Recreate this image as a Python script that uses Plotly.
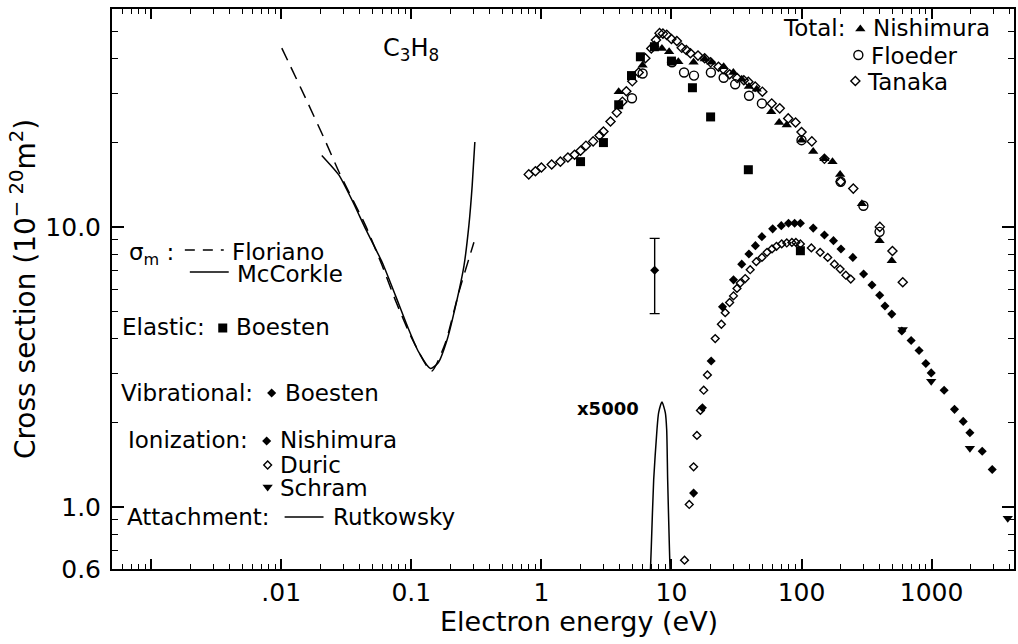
import numpy as np
import plotly.graph_objects as go

# ---------------- data: energy (eV), cross section (1e-20 m^2) ----------------
# momentum-transfer cross sections
floriano_e = [0.0101, 0.0154, 0.0220, 0.0278, 0.0445, 0.0598, 0.0757, 0.1017, 0.143, 0.183, 0.232, 0.303]
floriano_s = [43.5, 28.8, 20.1, 15.7, 10.1, 7.26, 5.45, 3.97, 3.05, 3.86, 5.84, 8.81]
mccorkle_e = [0.0205, 0.0240, 0.0278, 0.0352, 0.0445, 0.0598, 0.0757, 0.0931, 0.1144,
              0.1405, 0.161, 0.189, 0.219, 0.254, 0.277, 0.294, 0.308]
mccorkle_s = [18.0, 16.6, 15.3, 12.4, 9.84, 7.46, 5.67, 4.43, 3.56,
              3.12, 3.27, 3.97, 5.22, 7.26, 10.1, 14.1, 20.1]

# total scattering
tot_nishimura_e = [3.93, 6.0, 7.4, 8.45, 9.6, 11.3, 14.8, 18.0, 20.3, 25.2, 29.9, 34.7, 39.4,
                   45.2, 58.5, 67.3, 77.0, 100, 123, 150, 173, 198, 291, 398, 494]
tot_nishimura_s = [30.4, 37.8, 44.7, 43.4, 42.2, 38.9, 38.7, 39.8, 38.7, 37.3, 35.6, 33.7, 31.7,
                   31.0, 25.8, 23.6, 23.1, 20.4, 18.6, 17.5, 17.1, 15.4, 12.1, 8.93, 7.57]
tot_floeder_e = [4.97, 6.0, 10.1, 12.5, 14.9, 20.1, 25.2, 30.9, 39.5, 49.6, 100, 200, 299, 398]
tot_floeder_s = [28.8, 35.3, 38.7, 35.6, 34.7, 35.6, 34.1, 32.3, 29.4, 27.6, 20.4, 14.5, 11.9, 9.6]
tot_tanaka_e = [0.8, 0.9, 1.0, 1.2, 1.4, 1.6, 1.8, 2.0, 2.2, 2.5, 2.8, 3.0, 3.4, 3.8, 4.2, 4.5,
                5.0, 5.6, 6.3, 7.0, 7.6, 8.1, 8.6, 9.2, 10, 11, 12, 13, 14, 16, 18, 20, 23, 25,
                28, 32, 36, 39, 44, 50, 59, 68, 79, 90, 100, 120, 150, 200, 250, 400, 500, 600]
tot_tanaka_s = [15.4, 15.8, 16.3, 16.7, 17.1, 17.7, 18.1, 18.7, 19.5, 20.2, 21.2, 21.9, 23.8, 25.6, 28.0, 30.5,
                33.1, 35.6, 40.0, 43.4, 46.5, 49.2, 49.0, 48.5, 46.9, 46.1, 43.6, 42.8, 41.7, 40.9, 40.0, 38.7, 37.3, 36.6,
                35.1, 34.0, 33.4, 33.0, 31.7, 30.4, 27.6, 26.5, 24.4, 23.6, 21.8, 20.2, 17.5, 14.5, 13.7, 10.0, 8.2, 6.34]

# elastic
el_boesten_e = [2.0, 3.0, 3.93, 4.93, 5.77, 7.4, 10.0, 14.5, 20.0, 39.0, 98.0]
el_boesten_s = [17.1, 20.0, 27.3, 34.7, 40.5, 44.0, 39.1, 31.4, 24.7, 16.0, 8.22]

# vibrational
vib_boesten_e = [7.43]
vib_boesten_s = [7.0]
vib_boesten_err = [2.1]

# ionization
ion_nishimura_e = [14.8, 17.3, 20.2, 24.7, 30.0, 34.7, 39.4, 44.2, 49.6, 60, 69.9, 79.4, 88.5, 98,
                   123, 150, 176, 201, 248, 300, 348, 399, 438, 494, 590, 696, 801, 903, 993,
                   1248, 1500, 1750, 1970, 2450, 2925]
ion_nishimura_s = [1.12, 2.26, 3.32, 5.18, 6.47, 7.36, 8.0, 8.57, 9.23, 9.84, 10.1, 10.3, 10.3, 10.3,
                   9.9, 9.36, 8.93, 8.34, 7.78, 6.79, 6.2, 5.7, 5.22, 4.88, 4.25, 3.93, 3.62, 3.25, 3.01,
                   2.61, 2.23, 2.02, 1.84, 1.58, 1.36]
ion_duric_e = [12.6, 13.7, 14.8, 15.7, 16.7, 17.7, 18.9, 21.7, 24.2, 25.9, 28.0, 30.0, 31.9, 33.8,
               36.9, 40.3, 44.9, 49.6, 54.3, 59.3, 64.2, 70.4, 77.0, 84.3, 90.5, 98, 119, 139,
               159, 179, 198, 219, 239]
ion_duric_s = [0.645, 1.02, 1.39, 1.80, 2.21, 2.61, 2.96, 3.99, 4.49, 4.94, 5.37, 5.67, 6.03, 6.30,
               6.54, 7.03, 7.51, 7.78, 8.11, 8.34, 8.52, 8.69, 8.76, 8.8, 8.8, 8.69, 8.41, 8.11,
               7.78, 7.36, 7.07, 6.72, 6.51]
ion_schram_e = [600, 993, 1970, 3850]
ion_schram_s = [4.3, 2.81, 1.62, 0.911]

# attachment (scaled x5000)
att_rutkowsky_e = [6.85, 7.0, 7.3, 7.74, 7.97, 8.45, 8.97, 9.19, 9.35, 9.64, 9.8]
att_rutkowsky_s = [0.55, 0.72, 1.25, 1.89, 2.17, 2.37, 2.17, 1.89, 1.25, 0.72, 0.55]

# ---------------- figure geometry ----------------
W, H = 1018, 644
L, R, T, B = 112, 2, 9, 75
PW, PH = W - L - R, H - T - B
FONT = "DejaVu Sans"


def px(x):
    return (x - L) / PW


def py(y):
    return (H - B - y) / PH


fig = go.Figure()


def curve(x, y, dash="solid", width=1.5, xa="x", ya="y", spline=True):
    fig.add_trace(go.Scatter(
        x=x, y=y, mode="lines", xaxis=xa, yaxis=ya,
        line=dict(color="black", width=width, dash=dash,
                  shape="spline" if spline else "linear", smoothing=0.6),
        showlegend=False, hoverinfo="skip"))


def points(x, y, symbol, size, xa="x", ya="y", error=None):
    is_open = symbol.endswith("-open")
    fig.add_trace(go.Scatter(
        x=x, y=y, mode="markers", xaxis=xa, yaxis=ya,
        marker=dict(symbol=symbol, size=size, color="black",
                    line=dict(color="black", width=1.4 if is_open else 0)),
        error_y=error, showlegend=False, hoverinfo="skip"))


DASH = "13px,8px"

curve(floriano_e, floriano_s, dash=DASH)
curve(mccorkle_e, mccorkle_s)
curve(att_rutkowsky_e, att_rutkowsky_s)

points(tot_tanaka_e, tot_tanaka_s, "diamond-open", 7)
points(tot_floeder_e, tot_floeder_s, "circle-open", 9)
points(tot_nishimura_e, tot_nishimura_s, "triangle-up", 9)
points(el_boesten_e, el_boesten_s, "square", 9)
points(ion_duric_e, ion_duric_s, "diamond-open", 6)
points(ion_nishimura_e, ion_nishimura_s, "diamond", 7)
points(ion_schram_e, ion_schram_s, "triangle-down", 9)
points(vib_boesten_e, vib_boesten_s, "diamond", 7,
       error=dict(type="data", symmetric=True, array=vib_boesten_err,
                  color="black", thickness=1.4, width=5))

# ---------------- legend keys (overlay axes in plot-fraction units) ----------------
K = dict(xa="x2", ya="y2")
points([px(862)], [py(29)], "triangle-up", 9, **K)
points([px(860)], [py(55)], "circle-open", 9, **K)
points([px(857)], [py(81)], "diamond-open", 7, **K)
points([px(223)], [py(328)], "square", 9, **K)
points([px(272)], [py(393)], "diamond", 7, **K)
points([px(267)], [py(441)], "diamond", 7, **K)
points([px(268)], [py(465)], "diamond-open", 6, **K)
points([px(268)], [py(487)], "triangle-down", 9, **K)
curve([px(185), px(224)], [py(250), py(250)], dash="10px,8px", spline=False, **K)
curve([px(190), px(229)], [py(272), py(272)], spline=False, **K)
curve([px(285), px(324)], [py(517), py(517)], spline=False, **K)

texts = [
    ("Total:", 783, 28),
    ("Nishimura", 874, 28),
    ("Floeder", 872, 56),
    ("Tanaka", 868, 82),
    ("σ<sub>m</sub> :", 128, 254),
    ("Floriano", 231, 252),
    ("McCorkle", 236, 274),
    ("Elastic:", 121, 327),
    ("Boesten", 235, 327),
    ("Vibrational:", 120, 393),
    ("Boesten", 284, 393),
    ("Ionization:", 127, 440),
    ("Nishimura", 279, 440),
    ("Duric", 279, 465),
    ("Schram", 279, 488),
    ("Attachment:", 126, 517),
    ("Rutkowsky", 332, 517),
]
annotations = [
    dict(text=t, x=px(x), y=py(y), xref="paper", yref="paper", xanchor="left", yanchor="middle",
         showarrow=False, borderpad=0, font=dict(family=FONT, size=23, color="black"))
    for t, x, y in texts
]
annotations.append(dict(text="x5000", x=px(576), y=py(408), xref="paper", yref="paper",
                        xanchor="left", yanchor="middle", showarrow=False,
                        font=dict(family=FONT, size=18, color="black", weight="bold")))
annotations.append(dict(text="C<sub>3</sub>H<sub>8</sub>", x=px(382), y=py(50), xref="paper", yref="paper",
                        xanchor="left", yanchor="middle", showarrow=False,
                        font=dict(family=FONT, size=24, color="black")))
# horizontal axis title
annotations.append(dict(text="Electron energy (eV)", x=px(580), y=py(621), xref="paper", yref="paper",
                        xanchor="center", yanchor="middle", showarrow=False,
                        font=dict(family=FONT, size=27, color="black")))

# ---------------- axes ----------------
x_major = [0.001, 0.01, 0.1, 1, 10, 100, 1000]
x_major_text = ["", ".01", "0.1", "1", "10", "100", "1000"]
x_minor = [m * 10.0 ** d for d in range(-4, 4) for m in range(2, 10)]
y_major = [0.6, 1, 10]
y_major_text = ["0.6", "1.0", "10.0"]
y_minor = [m * 10.0 ** d for d in range(-1, 2) for m in range(2, 10)]

axis_common = dict(type="log", showline=True, linecolor="black", linewidth=2, mirror="ticks",
                   ticks="inside", tickcolor="black", tickwidth=1.5, showgrid=False, zeroline=False,
                   tickfont=dict(family=FONT, size=25, color="black"))

fig.update_layout(
    width=W, height=H,
    margin=dict(l=L, r=R, t=T, b=B),
    paper_bgcolor="white", plot_bgcolor="white",
    showlegend=False,
    xaxis=dict(**axis_common, range=[np.log10(0.0005), np.log10(4300)],
               tickmode="array", tickvals=x_major, ticktext=x_major_text, ticklen=10,
               minor=dict(tickmode="array", tickvals=x_minor, ticks="inside", ticklen=5,
                          tickcolor="black", tickwidth=1.2)),
    yaxis=dict(**axis_common, range=[np.log10(0.6), np.log10(60)],
               tickmode="array", tickvals=y_major, ticktext=y_major_text, ticklen=12,
               ticklabelstandoff=4,
               minor=dict(tickmode="array", tickvals=y_minor, ticks="inside", ticklen=6,
                          tickcolor="black", tickwidth=1.2),
               title=dict(text="Cross section (10<sup>− 20</sup>m<sup>2</sup>)",
                          font=dict(family=FONT, size=28, color="black"), standoff=2)),
    xaxis2=dict(overlaying="x", anchor="y2", range=[0, 1], visible=False),
    yaxis2=dict(overlaying="y", anchor="x2", range=[0, 1], visible=False),
    annotations=annotations,
)

fig.write_html("out.html")
